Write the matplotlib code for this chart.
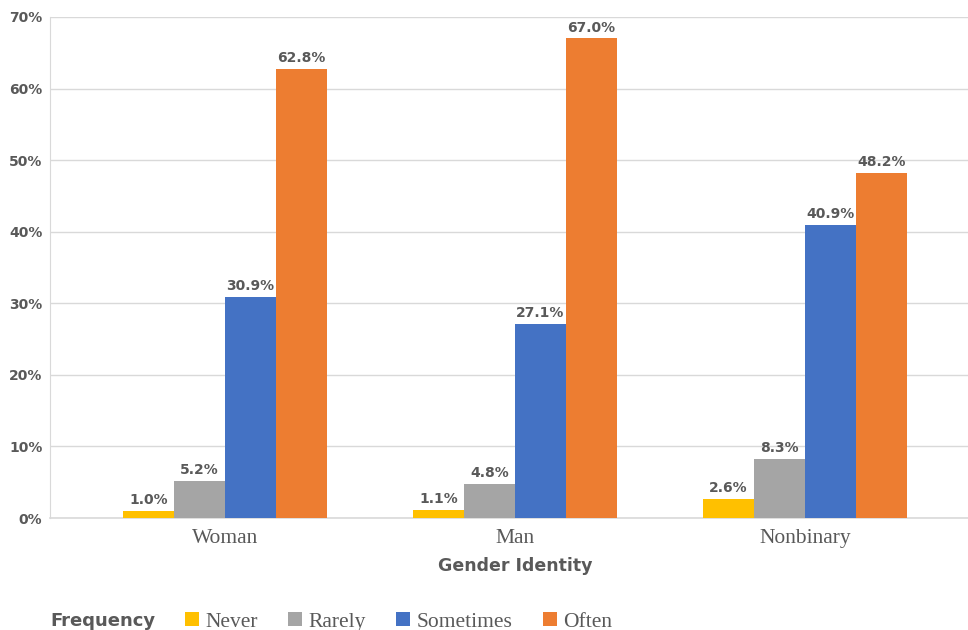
import numpy as np
import matplotlib.pyplot as plt
from matplotlib.ticker import FuncFormatter

# survey results by gender identity (% of respondents)
genders = ['Woman', 'Man', 'Nonbinary']
frequencies = ['Never', 'Rarely', 'Sometimes', 'Often']
never = [1.0, 1.1, 2.6]
rarely = [5.2, 4.8, 8.3]
sometimes = [30.9, 27.1, 40.9]
often = [62.8, 67.0, 48.2]
y_ticks = [0, 10, 20, 30, 40, 50, 60, 70]

colours = ['#FFC000', '#A5A5A5', '#4472C4', '#ED7D31']
text_grey = '#595959'
sans = ['DejaVu Sans']
serif = ['Liberation Serif', 'DejaVu Serif']

fig = plt.figure(figsize=(9.68, 6.3), dpi=100)
ax = fig.add_axes([50 / 968, 1 - 518 / 630, 918 / 968, 501 / 630])

x = np.arange(len(genders))
width = 0.176
series = [never, rarely, sometimes, often]

for idx, (name, values) in enumerate(zip(frequencies, series)):
    offset = (idx - 1.5) * width
    bars = ax.bar(x + offset, values, width, color=colours[idx], label=name, zorder=3)
    for bar, v in zip(bars, values):
        ax.text(bar.get_x() + bar.get_width() / 2, v + 0.55, f'{v:.1f}%',
                ha='center', va='bottom', fontsize=10, fontweight='bold',
                color=text_grey, family=sans)

# axes styling
ax.set_xlim(-0.603, 2.562)
ax.set_ylim(0, 70)
ax.set_yticks(y_ticks)
ax.yaxis.set_major_formatter(FuncFormatter(lambda v, p: f'{v:.0f}%'))
ax.grid(axis='y', color='#D9D9D9', linewidth=1, zorder=0)
ax.tick_params(length=0)
for lbl in ax.get_yticklabels():
    lbl.set_fontweight('bold')
    lbl.set_fontsize(10)
    lbl.set_color(text_grey)
    lbl.set_family(sans)
ax.yaxis.set_tick_params(pad=5.5)

ax.set_xticks(x)
ax.set_xticklabels(genders, family=serif, fontsize=15.5, color=text_grey)
ax.xaxis.set_tick_params(pad=8)

for side in ['top', 'right']:
    ax.spines[side].set_visible(False)
ax.spines['left'].set_color('#D9D9D9')
ax.spines['bottom'].set_color('#D9D9D9')
ax.spines['bottom'].set_linewidth(1.2)

fig.text(515 / 968, 1 - 566 / 630, 'Gender Identity', ha='center', va='center',
         fontsize=12.5, fontweight='bold', color=text_grey, family=sans)

# legend along the bottom with its own title
fig.text(50 / 968, 1 - 621 / 630, 'Frequency', ha='left', va='center',
         fontsize=13, fontweight='bold', color=text_grey, family=sans)
leg = fig.legend(loc='center left', bbox_to_anchor=(181 / 968, 1 - 622 / 630),
                 ncol=4, frameon=False, handlelength=0.65, handleheight=0.65,
                 handletextpad=0.3, columnspacing=1.4, borderaxespad=0,
                 borderpad=0.2, prop={'family': serif, 'size': 15.5})
for t in leg.get_texts():
    t.set_color(text_grey)

fig.savefig('out.png', dpi=100)
